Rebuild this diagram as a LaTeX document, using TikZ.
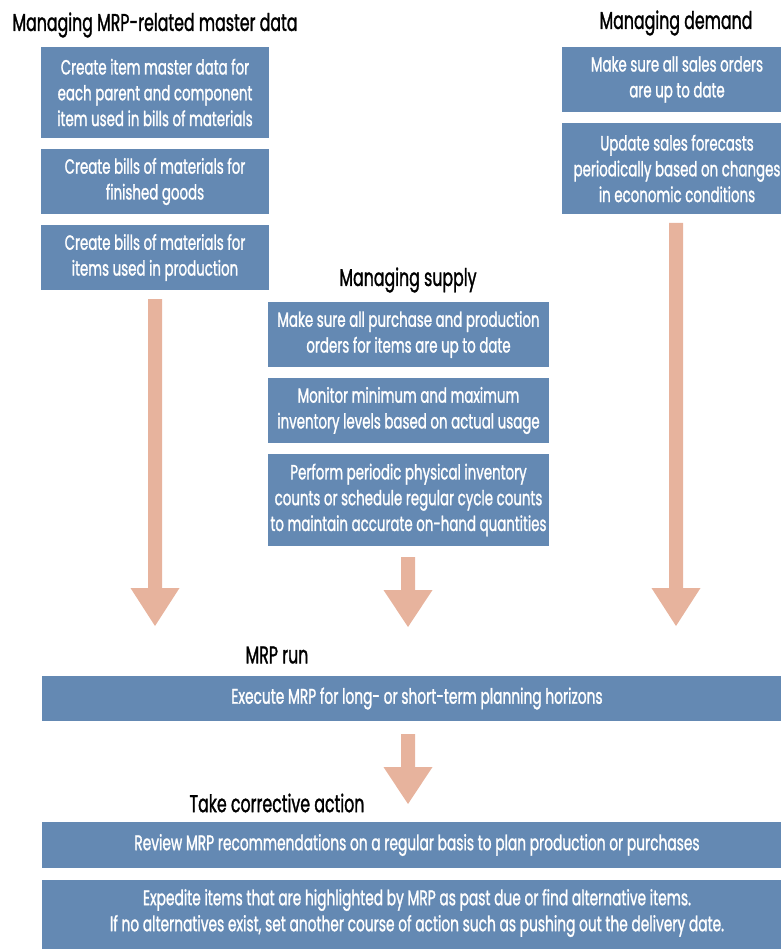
\documentclass[tikz,border=0pt]{standalone}
\usepackage{fontspec}
\setmainfont{Poppins}[FakeStretch=0.65,FakeBold=1.2]
\usetikzlibrary{calc}
\definecolor{boxblue}{HTML}{6489B3}
\definecolor{arrowsalmon}{HTML}{E7B39D}
\tikzset{
  x=1pt,y=-1pt,
  bluebox/.style={fill=boxblue,draw=none,text=white,align=center,inner sep=0pt,
     font=\fontsize{20.6}{25.8}\selectfont},
  bartext/.style={text=white,align=center,inner sep=0pt,
     font=\fontsize{21.2}{26}\selectfont},
  heading/.style={text=black,inner sep=0pt,font=\fontsize{24.3}{28}\selectfont},
  bigarrow/.style={fill=arrowsalmon,draw=none}
}
\newcommand{\downarrowshape}[4]{% x, ytop, ybase, ytip
  \fill[bigarrow] (#1-7,#2) -- (#1+7,#2) -- (#1+7,#3) -- (#1+24.5,#3) -- (#1,#4) -- (#1-24.5,#3) -- (#1-7,#3) -- cycle;}
\begin{document}
\begin{tikzpicture}
\useasboundingbox (0,0) rectangle (780,949);
% headings
\node[heading] (hmaster) at (155,25) {Managing MRP-related master data};
\node[heading] (hdemand) at (676,23) {Managing demand};
\node[heading] (hsupply) at (408,280) {Managing supply};
\node[heading] (hrun) at (277,655) {MRP run};
\node[heading] (hact) at (277,803) {Take corrective action};
% left column
\node[bluebox,minimum width=228,minimum height=91] (m1) at (155,92.5) {Create item master data for\\each parent and component\\item used in bills of materials};
\node[bluebox,minimum width=228,minimum height=65] (m2) at (155,181.5) {Create bills of materials for\\finished goods};
\node[bluebox,minimum width=228,minimum height=65] (m3) at (155,257.5) {Create bills of materials for\\items used in production};
% right column
\node[bluebox,minimum width=230,minimum height=65] (d1) at (677,79.5) {Make sure all sales orders\\are up to date};
\node[bluebox,minimum width=230,minimum height=91] (d2) at (677,168.5) {Update sales forecasts\\periodically based on changes\\in economic conditions};
% middle column
\node[bluebox,minimum width=281,minimum height=65] (s1) at (408.5,334.5) {Make sure all purchase and production\\orders for items are up to date};
\node[bluebox,minimum width=281,minimum height=65] (s2) at (408.5,410.5) {Monitor minimum and maximum\\inventory levels based on actual usage};
\node[bluebox,minimum width=281,minimum height=92] (s3) at (408.5,500) {Perform periodic physical inventory\\counts or schedule regular cycle counts\\to maintain accurate on-hand quantities};
% bars
\node[bluebox,minimum width=760,minimum height=45,anchor=west] (run) at (42,698.5) {};
\node[bartext] (runtxt) at (417,698.5) {Execute MRP for long- or short-term planning horizons};
\node[bluebox,minimum width=760,minimum height=46,anchor=west] (rev) at (42,845) {};
\node[bartext] (revtxt) at (417,845) {Review MRP recommendations on a regular basis to plan production or purchases};
\node[bluebox,minimum width=760,minimum height=70,anchor=west] (exp) at (42,915) {};
\node[bartext] (exptxt) at (417,913) {Expedite items that are highlighted by MRP as past due or find alternative items.\\If no alternatives exist, set another course of action such as pushing out the delivery date.};
% arrows
\downarrowshape{155}{299}{588}{626}
\downarrowshape{408}{557}{590}{627}
\downarrowshape{676}{223}{588}{626}
\downarrowshape{408}{734}{767}{804}
\end{tikzpicture}
\end{document}
